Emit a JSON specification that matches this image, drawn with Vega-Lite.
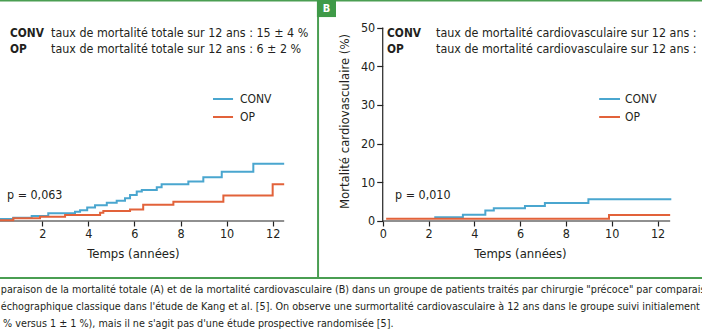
{
  "$schema": "https://vega.github.io/schema/vega-lite/v6.json",
  "width": 702,
  "height": 336,
  "autosize": {"type": "none"},
  "padding": 0,
  "background": "#ffffff",
  "config": {
    "view": {"stroke": null},
    "font": "Liberation Sans Narrow, DejaVu Sans Condensed, Roboto, sans-serif",
    "text": {"color": "#231f20", "font": "Liberation Sans Narrow, DejaVu Sans Condensed, Roboto, sans-serif", "fontSize": 12.4}
  },
  "datasets": {
    "curvesA": [
      {"group": "CONV", "t": 0, "v": 0.5},
      {"group": "CONV", "t": 0.74, "v": 0.85},
      {"group": "CONV", "t": 1.54, "v": 1.3},
      {"group": "CONV", "t": 2.26, "v": 2.0},
      {"group": "CONV", "t": 3.42, "v": 2.4},
      {"group": "CONV", "t": 3.64, "v": 2.8},
      {"group": "CONV", "t": 3.95, "v": 3.5},
      {"group": "CONV", "t": 4.29, "v": 4.1},
      {"group": "CONV", "t": 4.8, "v": 4.7},
      {"group": "CONV", "t": 5.23, "v": 5.2},
      {"group": "CONV", "t": 5.59, "v": 5.9},
      {"group": "CONV", "t": 5.81, "v": 6.7},
      {"group": "CONV", "t": 6.1, "v": 7.6},
      {"group": "CONV", "t": 6.32, "v": 8.0},
      {"group": "CONV", "t": 6.97, "v": 8.7},
      {"group": "CONV", "t": 7.18, "v": 9.5},
      {"group": "CONV", "t": 8.34, "v": 10.2},
      {"group": "CONV", "t": 8.99, "v": 11.3},
      {"group": "CONV", "t": 9.79, "v": 12.7},
      {"group": "CONV", "t": 11.16, "v": 14.8},
      {"group": "CONV", "t": 12.5, "v": 14.8},
      {"group": "OP", "t": 0, "v": 0.2},
      {"group": "OP", "t": 0.74, "v": 0.7},
      {"group": "OP", "t": 1.9, "v": 1.1},
      {"group": "OP", "t": 2.99, "v": 1.55},
      {"group": "OP", "t": 4.51, "v": 2.1},
      {"group": "OP", "t": 4.65, "v": 2.6},
      {"group": "OP", "t": 5.81, "v": 3.0},
      {"group": "OP", "t": 6.38, "v": 4.2},
      {"group": "OP", "t": 7.69, "v": 5.0},
      {"group": "OP", "t": 9.86, "v": 6.6},
      {"group": "OP", "t": 12.0, "v": 9.5},
      {"group": "OP", "t": 12.5, "v": 9.5}
    ],
    "curvesB": [
      {"group": "CONV", "t": 2.25, "v": 0.95},
      {"group": "CONV", "t": 3.5, "v": 1.6},
      {"group": "CONV", "t": 4.48, "v": 2.7},
      {"group": "CONV", "t": 4.85, "v": 3.3},
      {"group": "CONV", "t": 6.21, "v": 3.9},
      {"group": "CONV", "t": 7.08, "v": 4.65},
      {"group": "CONV", "t": 8.98, "v": 5.6},
      {"group": "CONV", "t": 12.6, "v": 5.6},
      {"group": "OP", "t": 0.15, "v": 0.55},
      {"group": "OP", "t": 9.88, "v": 1.55},
      {"group": "OP", "t": 12.55, "v": 1.55}
    ],
    "legendA": [
      {"group": "CONV", "t": 9.41, "t2": 10.28, "tx": 10.58, "v": 31.52},
      {"group": "OP", "t": 9.41, "t2": 10.28, "tx": 10.58, "v": 26.87}
    ],
    "legendB": [
      {"group": "CONV", "t": 9.45, "t2": 10.36, "tx": 10.58, "v": 31.52},
      {"group": "OP", "t": 9.45, "t2": 10.36, "tx": 10.58, "v": 26.87}
    ],
    "notesA": [
      {"key": "CONV", "desc": "taux de mortalité totale sur 12 ans : 15 ± 4 %", "t": 0.6, "td": 2.38, "v": 48.58},
      {"key": "OP", "desc": "taux de mortalité totale sur 12 ans : 6 ± 2 %", "t": 0.6, "td": 2.38, "v": 44.44}
    ],
    "notesB": [
      {"key": "CONV", "desc": "taux de mortalité cardiovasculaire sur 12 ans :", "t": 0.19, "td": 2.33, "v": 48.58},
      {"key": "OP", "desc": "taux de mortalité cardiovasculaire sur 12 ans :", "t": 0.19, "td": 2.33, "v": 44.44}
    ],
    "pA": [{"label": "p = 0,063", "t": 0.47, "v": 6.72}],
    "pB": [{"label": "p = 0,010", "t": 0.54, "v": 6.72}],
    "axisLineA": [{"t": 0, "t2": 12.5, "v": 0, "v2": 0}],
    "axisLinesB": [
      {"t": 0, "t2": 0, "v": 0, "v2": 50},
      {"t": 0, "t2": 12.55, "v": 0, "v2": 0}
    ],
    "frame": [
      {"t": -1, "t2": 32, "v": 57.0, "v2": 57.0},
      {"t": -1, "t2": 32, "v": -14.73, "v2": -14.73},
      {"t": 13.97, "t2": 13.97, "v": 57.2, "v2": -14.73}
    ],
    "panelTag": [{"label": "B", "t": 13.92, "t2": 14.75, "tx": 14.34, "v": 57.2, "v2": 52.7, "vy": 54.9}],
    "caption": [
      {"line": "paraison de la mortalité totale (A) et de la mortalité cardiovasculaire (B) dans un groupe de patients traités par chirurgie \"précoce\" par comparaison", "t": 0.2, "v": -17.83},
      {"line": "échographique classique dans l'étude de Kang et al. [5]. On observe une surmortalité cardiovasculaire à 12 ans dans le groupe suivi initialement", "t": 0.2, "v": -22.22},
      {"line": "% versus 1 ± 1 %), mais il ne s'agit pas d'une étude prospective randomisée [5].", "t": 0.3, "v": -26.61}
    ]
  },
  "resolve": {"scale": {"x": "independent"}, "axis": {"x": "independent"}},
  "layer": [
    {
      "encoding": {
        "x": {
          "field": "t", "type": "quantitative",
          "scale": {"domain": [0.165, 30.635], "nice": false, "zero": false},
          "axis": {
            "orient": "bottom", "offset": -115, "values": [0, 2, 4, 6, 8, 10, 12],
            "domain": false, "grid": false, "tickSize": 5, "tickColor": "#222", "tickWidth": 1.2,
            "labelFont": "Liberation Sans Narrow, DejaVu Sans Condensed, Roboto, sans-serif",
            "labelFontSize": 12.5, "labelColor": "#231f20", "labelPadding": 1, "labelFlush": false, "labelOverlap": false,
            "title": "Temps (années)",
            "titleFont": "Liberation Sans Narrow, DejaVu Sans Condensed, Roboto, sans-serif",
            "titleFontSize": 13, "titleFontWeight": "normal", "titleColor": "#231f20",
            "titleX": 133, "titleY": 32, "titleAlign": "center", "titleBaseline": "middle"
          }
        },
        "y": {
          "field": "v", "type": "quantitative",
          "scale": {"domain": [-29.72, 57.11], "nice": false, "zero": false},
          "axis": {
            "orient": "left", "offset": -382.7, "values": [0, 10, 20, 30, 40, 50],
            "domain": false, "grid": false, "tickSize": 6, "tickColor": "#222", "tickWidth": 1.2,
            "labelFont": "Liberation Sans Narrow, DejaVu Sans Condensed, Roboto, sans-serif",
            "labelFontSize": 12.5, "labelColor": "#231f20", "labelPadding": 2, "labelOverlap": false, "labelFlush": false,
            "title": "Mortalité cardiovasculaire (%)",
            "titleFont": "Liberation Sans Narrow, DejaVu Sans Condensed, Roboto, sans-serif",
            "titleFontSize": 13, "titleFontWeight": "normal", "titleColor": "#231f20",
            "titleX": -38, "titleY": 121, "titleAngle": 270, "titleAlign": "center", "titleBaseline": "middle"
          }
        }
      },
      "layer": [
        {
          "data": {"name": "frame"},
          "mark": {"type": "rule", "color": "#4a9e52", "strokeWidth": 2},
          "encoding": {"x2": {"field": "t2"}, "y2": {"field": "v2"}}
        },
        {
          "data": {"name": "panelTag"},
          "mark": {"type": "rect", "color": "#3f9a48"},
          "encoding": {"x2": {"field": "t2"}, "y2": {"field": "v2"}}
        },
        {
          "data": {"name": "panelTag"},
          "mark": {"type": "text", "align": "center", "baseline": "middle", "color": "#ffffff", "fontWeight": "bold", "fontSize": 11},
          "encoding": {"x": {"field": "tx", "type": "quantitative"}, "y": {"field": "vy", "type": "quantitative"}, "text": {"field": "label"}}
        },
        {
          "data": {"name": "axisLineA"},
          "mark": {"type": "rule", "color": "#222", "strokeWidth": 1.2},
          "encoding": {"x2": {"field": "t2"}, "y2": {"field": "v2"}}
        },
        {
          "data": {"name": "curvesA"},
          "mark": {"type": "line", "interpolate": "step-after", "strokeWidth": 2},
          "encoding": {
            "color": {"field": "group", "type": "nominal", "scale": {"domain": ["CONV", "OP"], "range": ["#4aa6cf", "#e2623a"]}, "legend": null}
          }
        },
        {
          "data": {"name": "legendA"},
          "mark": {"type": "rule", "strokeWidth": 2},
          "encoding": {
            "x2": {"field": "t2"},
            "color": {"field": "group", "type": "nominal", "legend": null}
          }
        },
        {
          "data": {"name": "legendA"},
          "mark": {"type": "text", "align": "left", "baseline": "middle", "fontSize": 12},
          "encoding": {"x": {"field": "tx", "type": "quantitative"}, "text": {"field": "group"}}
        },
        {
          "data": {"name": "notesA"},
          "mark": {"type": "text", "align": "left", "baseline": "middle", "fontWeight": "bold", "fontSize": 11.8},
          "encoding": {"text": {"field": "key"}}
        },
        {
          "data": {"name": "notesA"},
          "mark": {"type": "text", "align": "left", "baseline": "middle"},
          "encoding": {"x": {"field": "td", "type": "quantitative"}, "text": {"field": "desc"}}
        },
        {
          "data": {"name": "pA"},
          "mark": {"type": "text", "align": "left", "baseline": "middle"},
          "encoding": {"text": {"field": "label"}}
        },
        {
          "data": {"name": "caption"},
          "mark": {"type": "text", "align": "left", "baseline": "middle", "fontSize": 10.7, "color": "#231f20"},
          "encoding": {"text": {"field": "line"}}
        }
      ]
    },
    {
      "encoding": {
        "x": {
          "field": "t", "type": "quantitative",
          "scale": {"domain": [-16.71, 13.94], "nice": false, "zero": false},
          "axis": {
            "orient": "bottom", "offset": -115, "values": [0, 2, 4, 6, 8, 10, 12],
            "domain": false, "grid": false, "tickSize": 5, "tickColor": "#222", "tickWidth": 1.2,
            "labelFont": "Liberation Sans Narrow, DejaVu Sans Condensed, Roboto, sans-serif",
            "labelFontSize": 12.5, "labelColor": "#231f20", "labelPadding": 1, "labelFlush": false, "labelOverlap": false,
            "title": "Temps (années)",
            "titleFont": "Liberation Sans Narrow, DejaVu Sans Condensed, Roboto, sans-serif",
            "titleFontSize": 13, "titleFontWeight": "normal", "titleColor": "#231f20",
            "titleX": 520, "titleY": 32, "titleAlign": "center", "titleBaseline": "middle"
          }
        },
        "y": {
          "field": "v", "type": "quantitative",
          "scale": {"domain": [-29.72, 57.11], "nice": false, "zero": false},
          "axis": {
            "orient": "left", "offset": -382.7, "values": [0, 10, 20, 30, 40, 50],
            "domain": false, "grid": false, "tickSize": 6, "tickColor": "#222", "tickWidth": 1.2,
            "labelFont": "Liberation Sans Narrow, DejaVu Sans Condensed, Roboto, sans-serif",
            "labelFontSize": 12.5, "labelColor": "#231f20", "labelPadding": 2, "labelOverlap": false, "labelFlush": false,
            "title": "Mortalité cardiovasculaire (%)",
            "titleFont": "Liberation Sans Narrow, DejaVu Sans Condensed, Roboto, sans-serif",
            "titleFontSize": 13, "titleFontWeight": "normal", "titleColor": "#231f20",
            "titleX": -38, "titleY": 121, "titleAngle": 270, "titleAlign": "center", "titleBaseline": "middle"
          }
        }
      },
      "layer": [
        {
          "data": {"name": "axisLinesB"},
          "mark": {"type": "rule", "color": "#222", "strokeWidth": 1.2},
          "encoding": {"x2": {"field": "t2"}, "y2": {"field": "v2"}}
        },
        {
          "data": {"name": "curvesB"},
          "mark": {"type": "line", "interpolate": "step-after", "strokeWidth": 2},
          "encoding": {
            "color": {"field": "group", "type": "nominal", "scale": {"domain": ["CONV", "OP"], "range": ["#4aa6cf", "#e2623a"]}, "legend": null}
          }
        },
        {
          "data": {"name": "legendB"},
          "mark": {"type": "rule", "strokeWidth": 2},
          "encoding": {
            "x2": {"field": "t2"},
            "color": {"field": "group", "type": "nominal", "legend": null}
          }
        },
        {
          "data": {"name": "legendB"},
          "mark": {"type": "text", "align": "left", "baseline": "middle", "fontSize": 12},
          "encoding": {"x": {"field": "tx", "type": "quantitative"}, "text": {"field": "group"}}
        },
        {
          "data": {"name": "notesB"},
          "mark": {"type": "text", "align": "left", "baseline": "middle", "fontWeight": "bold", "fontSize": 11.8},
          "encoding": {"text": {"field": "key"}}
        },
        {
          "data": {"name": "notesB"},
          "mark": {"type": "text", "align": "left", "baseline": "middle"},
          "encoding": {"x": {"field": "td", "type": "quantitative"}, "text": {"field": "desc"}}
        },
        {
          "data": {"name": "pB"},
          "mark": {"type": "text", "align": "left", "baseline": "middle"},
          "encoding": {"text": {"field": "label"}}
        }
      ]
    }
  ]
}
